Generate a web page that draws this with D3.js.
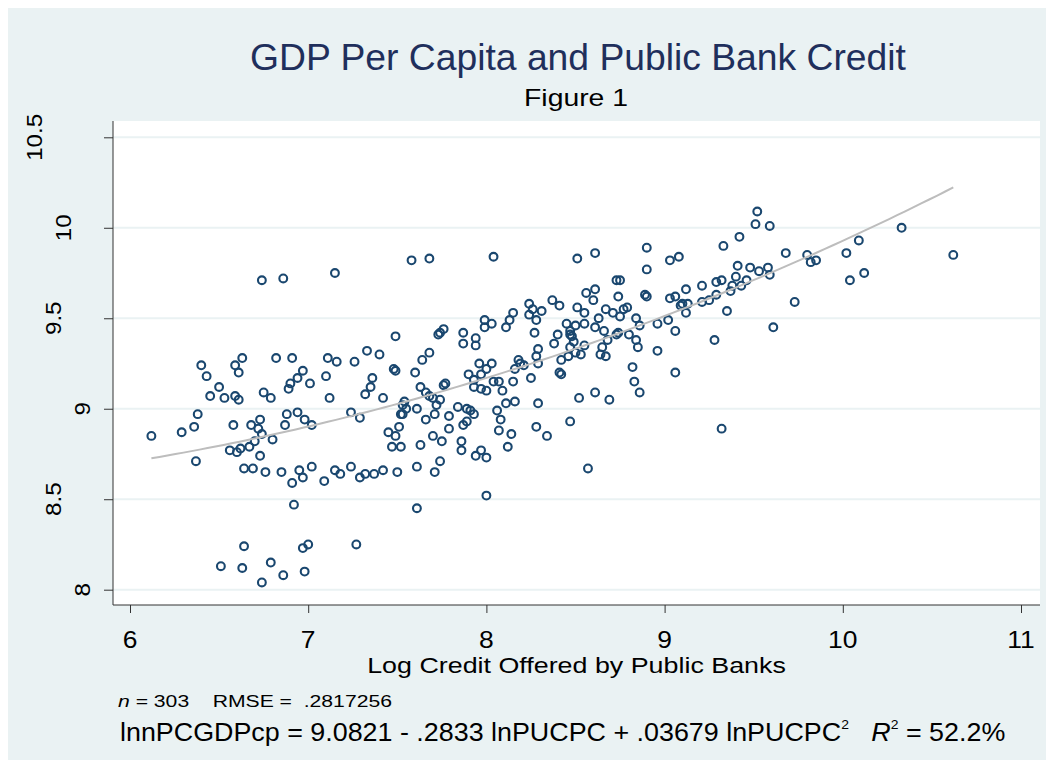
<html>
<head>
<meta charset="utf-8">
<script src="https://d3js.org/d3.v7.min.js"></script>
<style>
  body { margin: 0; background: #fff; }
  text { font-family: "Liberation Sans", Arial, sans-serif; white-space: pre; }
</style>
</head>
<body>
<div id="chart"></div>
<script>
// log credit offered by public banks (x) and log GDP per capita (y)
const lnPUCPC = [
  6.74, 6.86, 6.40, 6.43, 6.50, 6.45, 6.53, 6.59, 6.63, 6.61,
  6.59, 6.61, 6.75, 6.79, 6.82, 6.91, 6.97, 6.94, 6.90, 6.89,
  7.01, 7.11, 7.10, 7.12, 6.12, 6.29, 6.36, 6.38, 6.37, 6.58,
  6.68, 6.73, 6.72, 6.74, 6.70, 6.67, 6.80, 6.56, 6.60, 6.62,
  6.73, 6.64, 6.69, 6.76, 6.85, 6.91, 6.95, 6.97, 7.02, 7.09,
  6.88, 6.94, 6.98, 6.87, 7.02, 6.92, 6.64, 6.51, 6.63, 6.79,
  6.74, 6.86, 6.98, 6.97, 7.00, 7.15, 7.58, 7.68, 8.04, 7.49,
  7.16, 7.26, 7.33, 7.40, 7.36, 7.35, 7.32, 7.42, 7.48, 7.49,
  7.60, 7.64, 7.68, 7.63, 7.73, 7.74, 7.76, 7.76, 7.77, 7.87,
  7.87, 7.94, 7.94, 7.99, 7.99, 8.03, 8.11, 8.13, 8.15, 8.24,
  8.26, 8.24, 8.28, 8.31, 8.27, 8.29, 8.28, 7.96, 8.03, 7.90,
  7.93, 7.97, 8.00, 7.93, 7.97, 8.00, 8.04, 8.07, 8.09, 8.15,
  8.16, 8.18, 8.19, 8.21, 8.25, 8.29, 7.66, 7.68, 7.70, 7.74,
  7.72, 7.54, 7.53, 7.55, 7.52, 7.53, 7.61, 7.71, 7.66, 7.79,
  7.79, 7.84, 7.89, 7.91, 7.93, 7.89, 7.87, 7.86, 7.86, 7.75,
  7.70, 7.63, 7.52, 7.47, 7.49, 7.45, 7.51, 7.24, 7.29, 7.15,
  7.18, 7.24, 7.29, 7.32, 7.37, 7.42, 7.50, 7.61, 7.71, 7.74,
  7.61, 7.27, 7.94, 7.97, 8.00, 8.00, 8.06, 8.11, 8.16, 8.08,
  8.07, 8.14, 8.12, 8.29, 8.28, 8.51, 8.61, 8.90, 8.90, 9.03,
  9.08, 9.33, 9.42, 9.41, 9.48, 8.73, 8.75, 8.56, 8.61, 8.60,
  8.74, 8.89, 8.90, 8.37, 8.41, 8.51, 8.55, 8.67, 8.71, 8.75,
  8.77, 8.79, 8.63, 8.84, 8.86, 9.03, 9.06, 9.12, 9.21, 9.29,
  9.32, 9.37, 9.38, 9.40, 9.43, 9.46, 9.09, 9.10, 9.13, 9.12,
  9.21, 9.25, 9.29, 9.35, 9.02, 8.96, 9.06, 9.28, 8.96, 9.06,
  8.82, 8.83, 8.86, 8.61, 8.52, 8.69, 8.45, 8.50, 8.55, 8.47,
  8.47, 8.48, 8.40, 8.38, 8.47, 8.49, 8.55, 8.50, 8.53, 8.46,
  8.42, 8.41, 8.42, 8.61, 8.66, 8.73, 8.74, 8.68, 8.80, 8.84,
  8.85, 8.65, 8.64, 8.67, 8.34, 8.47, 8.57, 9.32, 9.52, 9.51,
  9.59, 9.68, 9.80, 9.82, 9.85, 10.02, 10.09, 10.33, 10.62, 9.53,
  9.58, 9.59, 10.04, 10.12, 9.73, 9.61
];
const lnnPCGDPcp = [
  9.71, 9.72, 9.24, 9.18, 9.12, 9.07, 9.06, 9.24, 9.28, 9.20,
  9.07, 9.05, 9.09, 9.06, 9.28, 9.28, 9.21, 9.17, 9.14, 9.11,
  9.14, 9.28, 9.18, 9.06, 8.85, 8.87, 8.90, 8.97, 8.71, 8.91,
  8.91, 8.94, 8.89, 8.86, 8.82, 8.79, 8.83, 8.77, 8.76, 8.78,
  8.74, 8.67, 8.67, 8.65, 8.65, 8.59, 8.66, 8.62, 8.68, 8.60,
  8.97, 8.98, 8.94, 8.91, 8.91, 8.47, 8.24, 8.13, 8.12, 8.15,
  8.04, 8.08, 8.10, 8.23, 8.25, 9.75, 9.82, 9.83, 9.84, 9.40,
  9.26, 9.26, 9.32, 9.30, 9.17, 9.12, 9.08, 9.06, 9.22, 9.21,
  9.20, 9.27, 9.31, 9.12, 9.41, 9.42, 9.44, 9.13, 9.14, 9.42,
  9.36, 9.39, 9.35, 9.49, 9.45, 9.47, 9.45, 9.49, 9.53, 9.58,
  9.55, 9.52, 9.49, 9.54, 9.42, 9.33, 9.29, 9.25, 9.25, 9.19,
  9.16, 9.19, 9.22, 9.12, 9.11, 9.10, 9.15, 9.15, 9.10, 9.15,
  9.22, 9.27, 9.25, 9.24, 9.17, 9.25, 9.09, 9.07, 9.06, 9.05,
  9.02, 9.04, 9.02, 9.00, 8.97, 8.97, 9.00, 8.97, 8.94, 8.96,
  8.89, 9.01, 9.00, 8.99, 8.97, 8.93, 8.91, 8.82, 8.77, 8.82,
  8.85, 8.80, 8.79, 8.79, 8.85, 8.87, 8.90, 8.98, 8.95, 8.66,
  8.64, 8.68, 8.62, 8.64, 8.64, 8.66, 8.65, 8.68, 8.65, 8.71,
  8.45, 8.25, 8.74, 8.77, 8.73, 8.52, 8.99, 9.03, 9.04, 8.94,
  8.88, 8.86, 8.79, 9.03, 8.90, 9.83, 9.86, 9.89, 9.77, 9.82,
  9.84, 9.90, 9.95, 9.79, 9.78, 9.71, 9.71, 9.64, 9.66, 9.60,
  9.62, 9.63, 9.62, 9.60, 9.57, 9.56, 9.53, 9.55, 9.53, 9.51,
  9.55, 9.56, 9.50, 9.50, 9.46, 9.61, 9.62, 9.66, 9.68, 9.70,
  9.71, 9.65, 9.68, 9.73, 9.68, 9.71, 9.57, 9.58, 9.58, 9.53,
  9.59, 9.60, 9.63, 9.54, 9.49, 9.47, 9.43, 9.38, 9.32, 9.20,
  9.23, 9.15, 9.09, 9.09, 9.06, 9.05, 9.47, 9.46, 9.47, 9.43,
  9.41, 9.40, 9.41, 9.36, 9.34, 9.37, 9.35, 9.31, 9.30, 9.29,
  9.27, 9.20, 9.19, 9.45, 9.43, 9.41, 9.42, 9.38, 9.41, 9.38,
  9.34, 9.34, 9.30, 9.29, 8.85, 8.93, 8.67, 8.89, 10.09, 10.02,
  10.01, 9.86, 9.85, 9.81, 9.82, 9.86, 9.93, 10.00, 9.85, 9.76,
  9.78, 9.74, 9.71, 9.75, 9.59, 9.45
];

// quadratic fit as printed under the chart: b0, b1, b2
const fitCoef = [9.0821, -0.2833, 0.03679];

const xTicks = [6, 7, 8, 9, 10, 11];
const yTicks = [8, 8.5, 9, 9.5, 10, 10.5];
const yTickLabels = ["8", "8.5", "9", "9.5", "10", "10.5"];

const W = 1054, H = 769;
const plot = {left: 113, right: 1040, top: 121, bottom: 605};

const svg = d3.select("#chart").append("svg")
  .attr("width", W)
  .attr("height", H);

// outer graph region
svg.append("rect").attr("x", 8).attr("y", 8).attr("width", 1038).attr("height", 752)
  .attr("fill", "#eaf2f3");
// plot region
svg.append("rect").attr("x", plot.left).attr("y", plot.top)
  .attr("width", plot.right - plot.left).attr("height", plot.bottom - plot.top)
  .attr("fill", "#ffffff");

const x = d3.scaleLinear().domain([6, 11]).range([130, 1021]);
const y = d3.scaleLinear().domain([8, 10.5]).range([589.7, 137.3]);

// horizontal grid
svg.append("g").selectAll("line").data(yTicks).join("line")
  .attr("x1", plot.left).attr("x2", plot.right)
  .attr("y1", d => y(d)).attr("y2", d => y(d))
  .attr("stroke", "#eaf2f3").attr("stroke-width", 2);

// points
const pts = lnPUCPC.map((v, i) => ({x: v, y: lnnPCGDPcp[i]}));
svg.append("g").selectAll("circle").data(pts).join("circle")
  .attr("cx", d => x(d.x)).attr("cy", d => y(d.y)).attr("r", 3.9)
  .attr("fill", "none").attr("stroke", "#1a476f").attr("stroke-width", 2.1);

// fitted quadratic over the range of the data
const xmin = d3.min(lnPUCPC), xmax = d3.max(lnPUCPC);
const fitPts = d3.range(0, 101).map(i => {
  const v = xmin + (xmax - xmin) * i / 100;
  return [v, fitCoef[0] + fitCoef[1] * v + fitCoef[2] * v * v];
});
svg.append("path").datum(fitPts)
  .attr("d", d3.line().x(d => x(d[0])).y(d => y(d[1])))
  .attr("fill", "none").attr("stroke", "#bdbdbd").attr("stroke-width", 2);

// stretch a text element horizontally to a target width, around its anchor
function fitWidth(t, ax, target) {
  const w = t.node().getComputedTextLength();
  const k = target / w;
  t.attr("transform", `translate(${ax},0) scale(${k},1) translate(${-ax},0)`);
}

// y axis
const yAxis = svg.append("g").attr("transform", `translate(${plot.left},0)`)
  .call(d3.axisLeft(y).tickValues(yTicks).tickSize(9).tickFormat(""));
yAxis.select(".domain").attr("d", `M0,${plot.top}V${plot.bottom}`).attr("stroke", "#333");
yAxis.selectAll(".tick line").attr("stroke", "#333");

yTicks.forEach((v, i) => {
  const t = svg.append("text").attr("font-size", 22).attr("fill", "#000")
    .attr("text-anchor", "middle").text(yTickLabels[i]);
  const w = t.node().getComputedTextLength();
  const cx = 100.6 - 1.55 * w;
  t.attr("transform", `translate(${cx + 0.36 * 22},${y(v)}) rotate(-90) scale(1.1,1)`);
});

// x axis
const xAxis = svg.append("g").attr("transform", `translate(0,${plot.bottom})`)
  .call(d3.axisBottom(x).tickValues(xTicks).tickSize(8).tickFormat(""));
xAxis.select(".domain").attr("d", `M${plot.left},0H${plot.right}`).attr("stroke", "#333");
xAxis.selectAll(".tick line").attr("stroke", "#333");

xTicks.forEach(v => {
  const t = svg.append("text").attr("x", x(v)).attr("y", 648)
    .attr("font-size", 23).attr("text-anchor", "middle").attr("fill", "#000").text(v);
  t.attr("transform", `translate(${x(v)},0) scale(1.15,1) translate(${-x(v)},0)`);
});

const midX = (plot.left + plot.right) / 2;

const xTitle = svg.append("text").attr("x", midX).attr("y", 673)
  .attr("font-size", 22).attr("text-anchor", "middle").attr("fill", "#000")
  .text("Log Credit Offered by Public Banks");
fitWidth(xTitle, midX, 419);

// titles
const title = svg.append("text").attr("x", 578).attr("y", 70)
  .attr("font-size", 37).attr("text-anchor", "middle").attr("fill", "#1f2f5c")
  .text("GDP Per Capita and Public Bank Credit");
fitWidth(title, 578, 656);

const sub = svg.append("text").attr("x", 576).attr("y", 106)
  .attr("font-size", 23.5).attr("text-anchor", "middle").attr("fill", "#000")
  .text("Figure 1");
fitWidth(sub, 576, 104);

// notes
const note = svg.append("text").attr("x", 118).attr("y", 707)
  .attr("font-size", 16).attr("fill", "#000");
note.append("tspan").attr("font-style", "italic").text("n");
note.append("tspan").text(" = 303    RMSE =  .2817256");
fitWidth(note, 118, 274);

const eq = svg.append("text").attr("x", 120).attr("y", 741)
  .attr("font-size", 25).attr("fill", "#000");
eq.append("tspan").text("lnnPCGDPcp = 9.0821 - .2833 lnPUCPC + .03679 lnPUCPC");
eq.append("tspan").attr("font-size", 13).attr("dy", -12).text("2");
eq.append("tspan").attr("dy", 12).text("   ");
eq.append("tspan").attr("font-style", "italic").text("R");
eq.append("tspan").attr("font-size", 13).attr("dy", -12).text("2");
eq.append("tspan").attr("dy", 12).text(" = 52.2%");
fitWidth(eq, 120, 886);
</script>
</body>
</html>
